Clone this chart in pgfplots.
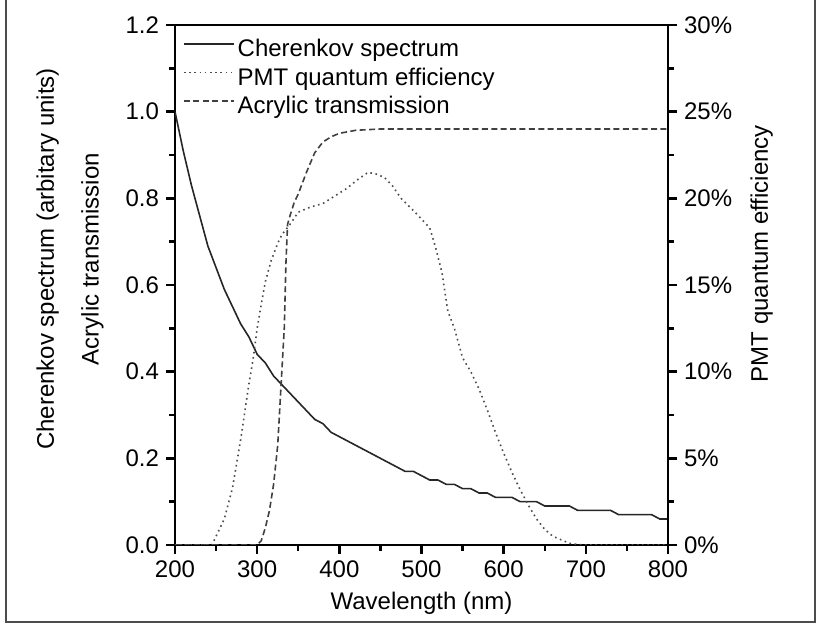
\documentclass[border=0pt]{standalone}
\usepackage{fontspec}
\setmainfont{Liberation Sans}
\usepackage{pgfplots}
\pgfplotsset{compat=1.18}
\begin{document}
\begin{tikzpicture}[font=\fontsize{12}{14.4}\selectfont]
\useasboundingbox (-87.5pt,-40pt) rectangle (321.5pt,272.5pt);
\draw[black!70, line width=0.75pt] (-84.5pt,272.5pt) -- (-84.5pt,-38.5pt) -- (320pt,-38.5pt) -- (320pt,272.5pt);
\begin{axis}[
  at={(0pt,0pt)}, anchor=south west,
  scale only axis, width=246.5pt, height=260pt,
  xmin=200, xmax=800, ymin=0, ymax=1.2,
  xtick={200,300,400,500,600,700,800},
  xticklabels={200,300,400,500,600,700,800},
  ytick={0,0.2,0.4,0.6,0.8,1.0,1.2},
  yticklabels={0.0,0.2,0.4,0.6,0.8,1.0,1.2},
  minor x tick num=1, minor y tick num=1,
  tick align=outside, xtick pos=bottom, ytick pos=left,
  major tick length=4.5pt, minor tick length=2.8pt,
  axis line style={line width=1.2pt},
  tick style={line width=1.2pt, black},
  xlabel={Wavelength (nm)},
  ylabel={Cherenkov spectrum (arbitary units)\\[8pt]Acrylic transmission},
  every axis x label/.style={at={(axis description cs:0.5,-0.1115)}, anchor=center},
  every axis y label/.style={at={(axis description cs:-0.213,0.55)}, rotate=90, anchor=center, align=center},
  legend style={at={(axis description cs:0.016,0.979)}, anchor=north west, draw=none, fill=none,
    inner sep=0pt, row sep=0pt, font=\fontsize{12}{14.4}\selectfont,
    nodes={inner sep=1.4pt, text height=8.8pt, text depth=2.6pt}},
  legend cell align=left,
  legend image code/.code={\draw[#1] (0pt,0.33em) -- (25pt,0.33em);},
]
\addplot[black!85, line width=0.8pt] coordinates {
(200,1.00) (210,0.91) (220,0.83) (230,0.76) (240,0.69) (250,0.64) (260,0.59) (270,0.55)
(280,0.51) (290,0.48) (300,0.44) (310,0.42) (320,0.39) (330,0.37) (340,0.35) (350,0.33)
(360,0.31) (370,0.29) (380,0.28) (390,0.26) (400,0.25) (410,0.24) (420,0.23) (430,0.22)
(440,0.21) (450,0.20) (460,0.19) (470,0.18) (480,0.17) (490,0.17) (500,0.16) (510,0.15)
(520,0.15) (530,0.14) (540,0.14) (550,0.13) (560,0.13) (570,0.12) (580,0.12) (590,0.11)
(600,0.11) (610,0.11) (620,0.10) (630,0.10) (640,0.10) (650,0.09) (660,0.09) (670,0.09)
(680,0.09) (690,0.08) (700,0.08) (710,0.08) (720,0.08) (730,0.08) (740,0.07) (750,0.07)
(760,0.07) (770,0.07) (780,0.07) (790,0.06) (800,0.06)
};
\addlegendentry{Cherenkov spectrum}
\addlegendimage{black!70, line width=0.8pt, dash pattern=on 0.8pt off 1.8pt}
\addlegendentry{PMT quantum efficiency}
\addplot[black!75, line width=0.8pt, dash pattern=on 3pt off 1.7pt] coordinates {
(200,0) (300,0) (305,0.01) (310,0.04) (315,0.08) (320,0.14) (325,0.23) (330,0.40)
(333,0.50) (335,0.65) (337,0.74) (340,0.76) (345,0.79) (350,0.81) (360,0.86)
(370,0.905) (380,0.93) (390,0.942) (400,0.95) (420,0.957) (450,0.96) (800,0.96)
};
\addlegendentry{Acrylic transmission}
\end{axis}
\begin{axis}[
  at={(0pt,0pt)}, anchor=south west,
  scale only axis, width=246.5pt, height=260pt,
  xmin=200, xmax=800, ymin=0, ymax=30,
  axis x line=none, axis y line*=right,
  ytick={0,5,10,15,20,25,30},
  yticklabels={0\%,5\%,10\%,15\%,20\%,25\%,30\%},
  minor y tick num=1,
  tick align=outside,
  major tick length=4.5pt, minor tick length=2.8pt,
  axis line style={line width=1.2pt, -},
  tick style={line width=1.2pt, black},
  ylabel={PMT quantum efficiency},
  every axis y label/.style={at={(axis description cs:1.19,0.56)}, rotate=90, anchor=center},
]
\addplot[black!70, line width=0.8pt, dash pattern=on 0.8pt off 1.8pt] coordinates {
(200,0) (245,0) (250,0.5) (260,1.5) (270,3.3) (280,6.1) (290,9.3) (295,10.7) (300,12.5)
(305,13.9) (310,15.2) (317,16.4) (325,17.4) (330,17.9) (340,18.5) (350,19.2) (365,19.5)
(380,19.7) (390,20.0) (400,20.3) (410,20.6) (420,21.0) (435,21.5) (445,21.4) (455,21.2)
(465,20.7) (475,20.0) (490,19.3) (500,18.8) (510,18.3) (517,17.2) (525,15.7) (532,13.5)
(540,12.5) (550,10.8) (560,10.0) (570,9.0) (580,7.8) (590,6.5) (600,5.3) (610,4.2)
(620,3.2) (630,2.3) (640,1.5) (650,0.9) (660,0.5) (670,0.3) (680,0.1) (690,0.03) (700,0)
(800,0)
};
\end{axis}
\end{tikzpicture}
\end{document}
